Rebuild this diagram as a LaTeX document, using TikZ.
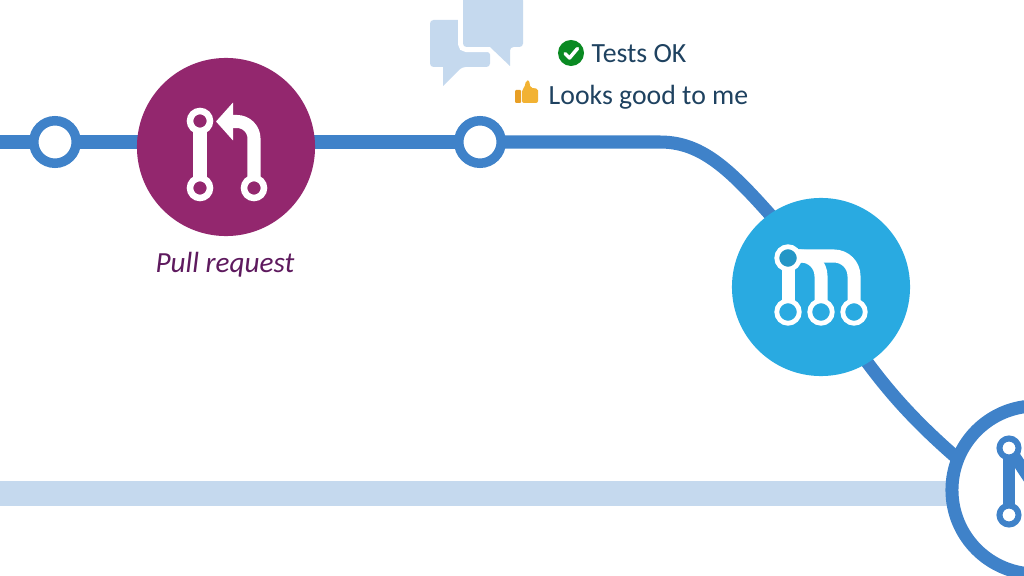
\documentclass[tikz,border=0pt]{standalone}
\usepackage{fontspec}
\setmainfont{Carlito}
\usetikzlibrary{arrows.meta,backgrounds}
\definecolor{trunkblue}{HTML}{3F82C9}
\definecolor{palebar}{HTML}{C5D9EE}
\definecolor{prpurple}{HTML}{93276E}
\definecolor{mergeblue}{HTML}{29AAE1}
\definecolor{inkblue}{HTML}{1F4260}
\definecolor{prink}{HTML}{5E1A5E}
\definecolor{okgreen}{HTML}{0A8A22}
\definecolor{thumbgold}{HTML}{F2B233}
\definecolor{cuffgold}{HTML}{E89F25}
\tikzset{
  hub/.style={circle,minimum size=1.78cm,inner sep=0pt},
  tick/.style={circle,draw=trunkblue,fill=white,line width=.095cm,minimum size=.425cm,inner sep=0pt,outer sep=0pt},
  pin/.style={circle,draw=white,line width=.065cm,minimum size=.2cm,inner sep=0pt,outer sep=0pt},
  mpin/.style={circle,draw=white,line width=.048cm,minimum size=.225cm,inner sep=0pt,outer sep=0pt},
  bluepin/.style={circle,draw=trunkblue,fill=white,line width=.06cm,minimum size=.19cm,inner sep=0pt,outer sep=0pt},
  trunk/.style={draw=trunkblue,line width=.13cm},
  prong/.style={draw=white,line width=.13cm},
  note/.style={inkblue,font=\fontsize{7.9}{10}\selectfont,anchor=base west,inner sep=0pt},
  bubble/.style={fill=palebar,rounded corners=.035cm},
}
\begin{document}
\begin{tikzpicture}[x=.01cm,y=-.01cm]
\useasboundingbox (0,0) rectangle (1024,576);
\clip (0,0) rectangle (1024,576);
\node[tick] (tickA) at (55,142) {};
\node[tick] (review) at (480,142) {};
\node[hub,fill=prpurple] (pr) at (226,147) {};
\node[hub,fill=mergeblue] (merge) at (821,287) {};
\node[hub,draw=trunkblue,fill=white,line width=.13cm,minimum size=1.68cm] (target) at (1036,490) {};
\coordinate (westA) at (0,142);
\coordinate (westB) at (0,493.5);
\coordinate (bendA) at (660,142);
\coordinate (mergeIn) at (795,243);
\coordinate (mergeOut) at (850,338);
\coordinate (targetIn) at (965,465);
\begin{scope}[on background layer]
\draw[palebar,line width=.255cm] (westB) -- (westB -| target);
\draw[trunk] (westA) -- (tickA);
\draw[trunk] (tickA) -- (tickA -| pr);
\draw[trunk] (tickA -| pr) -- (review);
\draw[trunk] (review) -- (bendA) .. controls (708,142) and (738,178) .. (mergeIn);
\draw[trunk] (mergeOut) .. controls (882,385) and (912,420) .. (targetIn);
\end{scope}
\node[pin,fill=prpurple] (prTop) at (200,121) {};
\node[pin,fill=prpurple] (prLeft) at (200,188) {};
\node[pin,fill=prpurple] (prRight) at (254,188) {};
\coordinate (prTip) at (216,121.5);
\draw[prong] (prTop) -- (prLeft);
\draw[prong,rounded corners=.17cm,-{Triangle[length=.17cm,width=.37cm]}] (prRight) |- (prTip);
\node[mpin,fill=mergeblue!88!black] (mTop) at (788,258) {};
\node[mpin,fill=mergeblue] (mLeft) at (788,312) {};
\node[mpin,fill=mergeblue] (mMid) at (821,312) {};
\node[mpin,fill=mergeblue] (mRight) at (854,312) {};
\coordinate (mArch) at (798,256);
\draw[prong] (mTop) -- (mLeft);
\draw[prong,rounded corners=.2cm] (mArch) -| (mRight);
\draw[prong,rounded corners=.2cm] (mMid) |- (mArch);
\node[bluepin] (tTop) at (1009,448) {};
\node[bluepin] (tBottom) at (1009,515) {};
\coordinate (tSide) at (1042,498);
\draw[trunkblue,line width=.125cm] (tTop) -- (tBottom);
\draw[trunkblue,line width=.12cm] (tTop) -- (tSide);
\path[bubble] (430,20) -- (490,20) -- (490,67) -- (462,67) [sharp corners] -- (443,86) -- (443,67) [rounded corners=.035cm] -- (430,67) -- cycle;
\path[bubble,preaction={draw=white,line width=.1cm}] (463,-3) -- (523,-3) -- (523,47) -- (510,47) [sharp corners] -- (510,66) -- (490,47) [rounded corners=.035cm] -- (463,47) -- cycle;
\node[circle,fill=okgreen,minimum size=.26cm,inner sep=0pt] (okBadge) at (571,53) {};
\draw[white,line width=.035cm,line cap=round,line join=round] (565,53.5) -- (569.5,58) -- (577.5,48.5);
\node[note] (okText) at (591,63) {Tests OK};
\fill[thumbgold,rounded corners=.02cm] (522,89.5) -- (525,87) -- (525.5,81) -- (529,80) -- (530.5,88) -- (538,88.5) -- (538,103) -- (522,103) -- cycle;
\fill[cuffgold,rounded corners=.01cm] (515,90) rectangle (521,103);
\node[note] (lgtmText) at (548,105) {Looks good to me};
\node[prink,font=\fontsize{8.3}{10}\selectfont\itshape,inner sep=0pt,anchor=base] (prText) at (225,273) {Pull request};
\end{tikzpicture}
\end{document}
